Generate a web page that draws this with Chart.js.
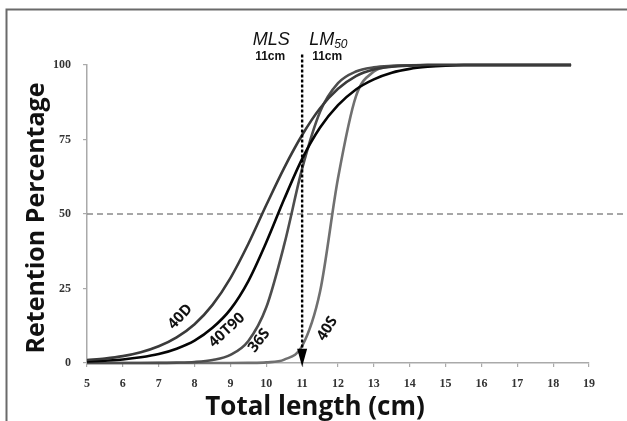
<!DOCTYPE html>
<html><head><meta charset="utf-8">
<script src="https://cdn.jsdelivr.net/npm/chart.js@4.4.1/dist/chart.umd.min.js"></script>
<style>html,body{margin:0;padding:0;background:#fff}#wrap{position:relative;width:627px;height:421px}</style>
</head><body><div id="wrap"><canvas id="c" width="627" height="421"></canvas></div>
<script>
// ---- data ----
const lengths = [5,5.5,6,6.5,7,7.5,8,8.5,9,9.5,10,10.5,11,11.5,12,12.5,13,13.5,14,14.5,15,15.5,16,16.5,17,17.5,18,18.5];
const s40D   = [1.0,1.5,2.3,3.6,5.6,8.6,13,19.5,28.5,40,53,65.5,76.5,85.5,92,96.3,98.5,99.4,99.8,100,100,100,100,100,100,100,100,100];
const s40T90 = [0.5,0.8,1.2,1.9,3.0,4.8,7.5,11.8,18,27.5,40.5,55,68.5,79,86.5,91.8,95.2,97.4,98.7,99.4,99.8,100,100,100,100,100,100,100];
const s36S   = [0,0,0,0,0.04,0.12,0.34,1.0,2.7,7.4,18.7,39.7,65.2,84.3,93.9,97.8,99.2,99.7,99.9,100,100,100,100,100,100,100,100,100];
const s40S   = [0,0,0,0,0,0,0,0,0,0.04,0.22,1.15,5.7,24,62,89.5,97.8,99.6,99.9,100,100,100,100,100,100,100,100,100];
const seriesNames = ['40D','40T90','36S','40S'];
const xTickValues = [5,6,7,8,9,10,11,12,13,14,15,16,17,18,19];
const yTickValues = [0,25,50,75,100];
const mlsLength = 11;     // MLS 11cm
const lm50Length = 11;    // LM50 11cm
const cutoffLevel = 50;
const xTitle = 'Total length (cm)';
const yTitle = 'Retention Percentage';
// curve label anchors (length, retention) and angles
const labelX = [7.6, 8.9, 9.8, 11.7];
const labelY = [15.5, 11, 7.5, 11.5];
const labelAngle = [-47, -43, -52, -58];

const colors = ['#3a3a3a','#050505','#4d4d4d','#707070'];
const allSeries = [s40D, s40T90, s36S, s40S];

const datasets = allSeries.map((s,i)=>({
  label: seriesNames[i],
  data: lengths.map((x,j)=>({x:x,y:s[j]})),
  borderColor: colors[i],
  borderWidth: 2.6,
  pointRadius: 0,
  fill: false,
  cubicInterpolationMode: 'monotone',
  clip: false
}));

const annot = {
  id: 'annot',
  beforeDatasetsDraw(chart){
    const ctx = chart.ctx, xs = chart.scales.x, ys = chart.scales.y;
    ctx.save();
    // frame
    ctx.strokeStyle = '#6a6a6a'; ctx.lineWidth = 2;
    ctx.beginPath(); ctx.moveTo(6.5, 421); ctx.lineTo(6.5, 9.5); ctx.lineTo(627, 9.5); ctx.stroke();
    // 50% dashed line
    const y50 = ys.getPixelForValue(cutoffLevel);
    ctx.strokeStyle = '#8a8a8a'; ctx.lineWidth = 1.5; ctx.setLineDash([6,4]);
    ctx.beginPath(); ctx.moveTo(xs.left, y50); ctx.lineTo(626, y50); ctx.stroke();
    ctx.setLineDash([]);
    // axis titles
    ctx.fillStyle = '#111';
    ctx.textAlign = 'center'; ctx.textBaseline = 'middle';
    ctx.font = 'bold 26px "Open Sans", sans-serif';
    ctx.fillText(xTitle, 315, 408);
    ctx.save();
    ctx.translate(37, 218); ctx.rotate(-Math.PI/2);
    ctx.font = 'bold 25px "Open Sans", sans-serif';
    ctx.fillText(yTitle, 0, 0);
    ctx.restore();
    ctx.restore();
  },
  afterDatasetsDraw(chart){
    const ctx = chart.ctx, xs = chart.scales.x, ys = chart.scales.y;
    ctx.save();
    const xa = xs.getPixelForValue(mlsLength);
    const yTop = ys.getPixelForValue(103.5);
    const yTip = ys.getPixelForValue(-1.3);
    const headH = 18, headW = 5;
    ctx.strokeStyle = '#000'; ctx.lineWidth = 2.4; ctx.setLineDash([3,2]);
    ctx.beginPath(); ctx.moveTo(xa, yTop); ctx.lineTo(xa, yTip - headH + 2); ctx.stroke();
    ctx.setLineDash([]);
    ctx.fillStyle = '#000';
    ctx.beginPath(); ctx.moveTo(xa - headW, yTip - headH); ctx.lineTo(xa + headW, yTip - headH); ctx.lineTo(xa, yTip); ctx.closePath(); ctx.fill();
    // MLS / LM50 labels
    ctx.fillStyle = '#111';
    ctx.textBaseline = 'alphabetic';
    ctx.font = 'italic 18px "Liberation Sans", Arial, sans-serif';
    ctx.textAlign = 'center';
    ctx.fillText('MLS', xa - 31, 45);
    ctx.textAlign = 'left';
    const lmX = xs.getPixelForValue(lm50Length) + 7;
    ctx.fillText('LM', lmX, 45);
    const w = ctx.measureText('LM').width;
    ctx.font = 'italic 12px "Liberation Sans", Arial, sans-serif';
    ctx.fillText('50', lmX + w, 48);
    ctx.font = 'bold 12px "Liberation Sans", Arial, sans-serif';
    ctx.textAlign = 'center';
    ctx.fillText(mlsLength + 'cm', xa - 32, 60);
    ctx.fillText(lm50Length + 'cm', xa + 25, 60);
    // curve labels
    ctx.font = 'bold 15px "Open Sans", sans-serif';
    ctx.textBaseline = 'middle';
    for (let i = 0; i < seriesNames.length; i++) {
      ctx.save();
      ctx.translate(xs.getPixelForValue(labelX[i]), ys.getPixelForValue(labelY[i]));
      ctx.rotate(labelAngle[i] * Math.PI / 180);
      ctx.fillStyle = '#111';
      ctx.fillText(seriesNames[i], 0, 0);
      ctx.restore();
    }
    ctx.restore();
  }
};

new Chart(document.getElementById('c'), {
  type: 'line',
  data: { datasets },
  options: {
    responsive: false, animation: false, devicePixelRatio: 1,
    layout: { padding: { left: 0, top: 65, right: 38, bottom: 0 } },
    plugins: { legend: { display: false }, tooltip: { enabled: false } },
    scales: {
      x: {
        type: 'linear', min: 5, max: 19,
        afterFit(s){ s.height = 58; },
        afterBuildTicks(s){ s.ticks = xTickValues.map(v=>({value:v})); },
        grid: { drawOnChartArea: false, tickLength: 4, color: '#aaa', lineWidth: 1.2 },
        border: { color: '#aaa', width: 1.5 },
        ticks: { padding: 10, color: '#333', font: { family: '"Liberation Serif", serif', size: 12, weight: 'bold' }, maxRotation: 0 }
      },
      y: {
        min: 0, max: 100,
        afterFit(s){ s.width = 87; },
        afterBuildTicks(s){ s.ticks = yTickValues.map(v=>({value:v})); },
        grid: { drawOnChartArea: false, tickLength: 4, color: '#aaa', lineWidth: 1.2 },
        border: { color: '#aaa', width: 1.5 },
        ticks: { padding: 12, color: '#333', font: { family: '"Liberation Serif", serif', size: 12, weight: 'bold' } }
      }
    }
  },
  plugins: [annot]
});
</script></body></html>
